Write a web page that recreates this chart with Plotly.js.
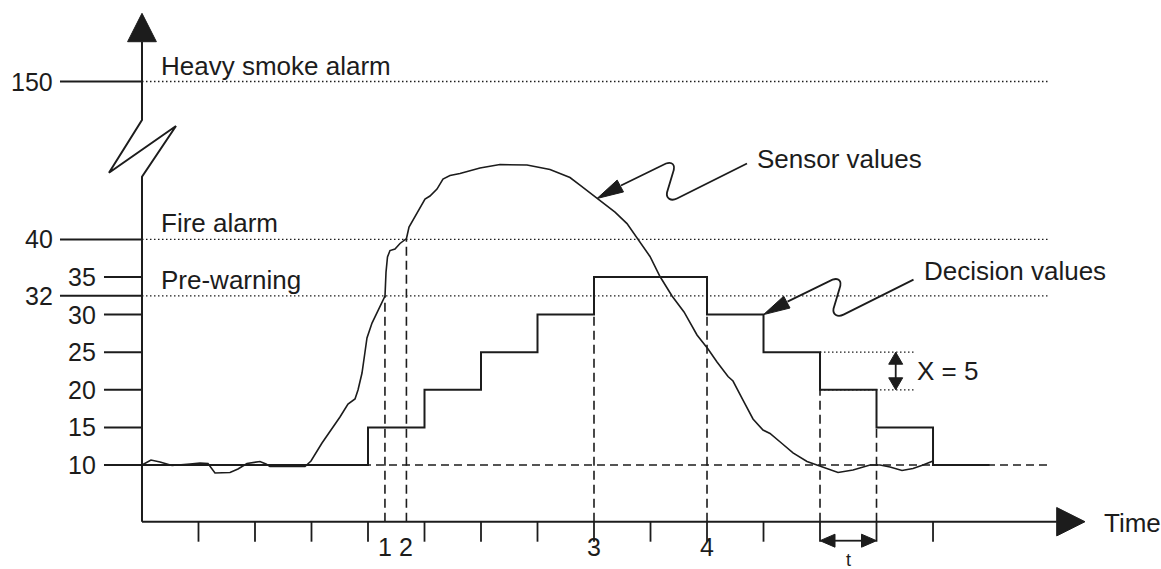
<!DOCTYPE html>
<html><head><meta charset="utf-8">
<script src="https://cdn.plot.ly/plotly-3.0.1.min.js"></script>
<style>html,body{margin:0;padding:0;background:#fff;}#chart{width:1161px;height:569px;}</style>
</head><body><div id="chart"></div>
<script>
// ---------------- data ----------------
const sensorT = [0,0.159,0.319,0.531,0.850,1.027,1.168,1.292,1.558,1.699,1.858,2.088,2.195,2.265,2.885,2.991,3.186,3.363,3.504,3.646,3.770,3.823,3.894,3.947,3.982,4.071,4.212,4.301,4.319,4.345,4.389,4.478,4.566,4.681,4.726,4.850,4.920,5.009,5.097,5.221,5.327,5.451,5.628,5.982,6.336,6.814,7.221,7.575,7.752,8.053,8.372,8.584,8.761,8.991,9.168,9.381,9.593,9.823,10.018,10.177,10.372,10.460,10.637,10.814,10.991,11.115,11.327,11.522,11.770,12.035,12.319,12.584,12.885,13.062,13.239,13.451,13.646,13.823,14.0];
const sensorV = [10,10.66,10.40,9.93,10.13,10.27,10.20,8.94,9.00,9.47,10.20,10.47,10.13,9.80,9.80,10.53,12.93,14.79,16.38,18.11,18.78,19.97,22.23,25.03,26.89,28.88,31.14,32.47,35.66,37.66,38.52,38.72,39.46,40.12,41.65,43.24,44.18,45.37,45.77,46.70,48.03,48.50,48.76,49.49,49.96,49.89,49.30,48.23,47.23,45.44,43.64,42.11,40.19,37.73,35.07,32.47,30.35,27.29,25.43,23.70,21.77,21.17,18.64,16.12,14.65,14.19,12.86,11.60,10.47,9.73,9.00,9.34,10.00,10.00,9.73,9.27,9.53,10.00,10.53];
const decisionT = [0,4,5,6,7,8,10,11,12,13,14,15];
const decisionV = [10,15,20,25,30,35,30,25,20,15,10,10];
const timeTicks = [1,2,3,4,5,6,7,8,9,10,11,12,13,14];
const eventLabels = ['1','2','3','4'];
const eventTimes = [4.30,4.68,8,10];
const eventRefs = [32,40,null,null];
const intervalTimes = [12,13];
const intervalLabel = 't';
const thresholdNames = ['Heavy smoke alarm','Fire alarm','Pre-warning'];
const thresholdValues = [150,40,32];
const yTickLabels = ['10','15','20','25','30','32','35','40','150'];
const yTickPos = [10,15,20,25,30,32.5,35,40,61];   // broken schematic axis
const longTickLabels = ['32','40','150'];
const baseValue = 10;
const stepX = 5;
const seriesNames = ['Sensor values','Decision values'];

// ---------------- layout helpers ----------------
const W = 1161, H = 569;
const X0 = -2.513, X1 = 18.035, Y0 = -3.83, Y1 = 71.84;
const sx = W/(X1-X0), sy = H/(Y1-Y0);
const axisY = 2.46;      // time axis height
const refEnd = 16.04;    // right end of reference lines
const xArrowTip = 16.69;
const ink = '#1c1c1c';
const FONT = 'Liberation Sans, Arial, Helvetica, sans-serif';

const posOf = v => yTickPos[yTickLabels.indexOf(String(v))];
function off(x,y,dxp,dyp){ return [x+dxp/sx, y-dyp/sy]; }
function fmt(p){ return p[0].toFixed(4)+','+p[1].toFixed(4); }
function pathOf(pts, close){ return 'M'+pts.map(fmt).join(' L')+(close?' Z':''); }
function head(tx,ty,ux,uy,len,half){
  const bx=-ux*len, by=-uy*len, px=-uy, py=ux;
  return pathOf([[tx,ty], off(tx,ty,bx+px*half,by+py*half), off(tx,ty,bx-px*half,by-py*half)], true);
}
const shapes = [];
function line(x0,y0,x1,y1,o){ o=o||{}; shapes.push({type:'line',xref:'x',yref:'y',x0,y0,x1,y1,layer:o.layer||'above',line:{color:ink,width:o.w||2,dash:o.dash||'solid'}}); }
function fill(path){ shapes.push({type:'path',xref:'x',yref:'y',path,fillcolor:ink,line:{color:ink,width:1}}); }
function stroke(path,w){ shapes.push({type:'path',xref:'x',yref:'y',path,line:{color:ink,width:w||1.8}}); }

function decBefore(t){ let v=decisionV[0]; for(let i=0;i<decisionT.length;i++){ if(decisionT[i]<t) v=decisionV[i]; } return v; }
function decAfter(t){ let v=decisionV[0]; for(let i=0;i<decisionT.length;i++){ if(decisionT[i]<=t) v=decisionV[i]; } return v; }

// threshold dotted lines
thresholdValues.forEach(v=>line(0,posOf(v),refEnd,posOf(v),{w:1.3,dash:'1.5px,2.5px',layer:'below'}));
// base dashed line
line(0,baseValue,refEnd,baseValue,{w:1.5,dash:'8px,5px',layer:'below'});
// event dashed verticals
eventTimes.forEach((t,i)=>{
  const top = eventRefs[i]!==null ? posOf(eventRefs[i]) : Math.min(decBefore(t),decAfter(t));
  line(t,axisY,t,top,{w:1.6,dash:'9px,5px',layer:'below'});
});
intervalTimes.forEach(t=>line(t,axisY,t,Math.min(decBefore(t),decAfter(t)),{w:1.6,dash:'9px,5px',layer:'below'}));

// y ticks
const longX = (60-142)/sx, shortX = (104-142)/sx;
yTickLabels.forEach((lab,i)=>{
  line(longTickLabels.includes(lab)?longX:shortX, yTickPos[i], 0, yTickPos[i], {w:2});
});
// y axis with break
const yArrowTip = 70.07, yArrowBase = 66.29;
stroke(pathOf([[0,axisY],[0,48.34],[0.602,55.08],[-0.584,48.87],[0,55.88],[0,yArrowBase]]),2);
fill(head(0,yArrowTip,0,-1,28.4,14.4));
// x axis
line(0,axisY,xArrowTip-28.3/sx,axisY,{w:2});
fill(head(xArrowTip,axisY,1,0,28.3,14.2));
timeTicks.forEach(t=>line(t,axisY,t,axisY-20/sy,{w:1.8}));

// interval t arrow
const tY = axisY - 19/sy;
line(intervalTimes[0]+14/sx,tY,intervalTimes[1]-14/sx,tY,{w:1.8});
fill(head(intervalTimes[0],tY,-1,0,15,6.5));
fill(head(intervalTimes[1],tY,1,0,15,6.5));

// X = 5 marker
const xs0 = 12, xs1 = 12 + 94/sx, xa = 12 + 75.7/sx;
line(xs0,25,xs1,25,{w:1.3,dash:'1.5px,2.5px'});
line(xs0,20,xs1,20,{w:1.3,dash:'1.5px,2.5px'});
line(xa,20+11/sy,xa,25-11/sy,{w:1.8});
fill(head(xa,25,0,-1,12,7));
fill(head(xa,20,0,1,12,7));

// callouts
function callout(tx,ty){
  const P = (a,b)=>fmt(off(tx,ty,a,b));
  const path = 'M'+P(150,-35)+' L'+P(80,0)+' C'+P(74,3)+' '+P(69,0)+' '+P(70,-6)+' L'+P(76,-26)+' C'+P(79,-34)+' '+P(75,-37)+' '+P(69,-35)+' L'+P(24,-13);
  stroke(path,1.8);
  fill(head(tx,ty,-0.881,0.472,26.5,6.7));
}
const sTip = [sensorT[49], sensorV[49]];
const dTip = [decisionT[7], decisionV[6]];
callout(sTip[0], sTip[1]);
callout(dTip[0], dTip[1]);

// ---------------- annotations ----------------
const ann = [];
function text(x,y,t,o){ o=o||{}; ann.push({x,y,xref:'x',yref:'y',text:t,showarrow:false,xanchor:o.xa||'left',yanchor:'middle',font:{family:FONT,size:o.size||26,color:ink}}); }
thresholdNames.forEach((n,i)=>text(0.30, posOf(thresholdValues[i])+16/sy, n));
yTickLabels.forEach((lab,i)=>text(longTickLabels.includes(lab)? (55-142)/sx : (98-142)/sx, yTickPos[i], lab, {xa:'right',size:25}));
eventLabels.forEach((lab,i)=>text(eventTimes[i], axisY-25/sy, lab, {xa:'center',size:25}));
text((intervalTimes[0]+intervalTimes[1])/2, axisY-38/sy, intervalLabel, {xa:'center',size:18});
text(xArrowTip+17/sx, axisY-1/sy, 'Time');
text(xs1+0.5/sx, 22.5, 'X = '+stepX);
const s1 = off(sTip[0],sTip[1],158,-40); text(s1[0],s1[1],seriesNames[0]);
const d1 = off(dTip[0],dTip[1],158,-44); text(d1[0],d1[1],seriesNames[1]);

// ---------------- traces ----------------
const traces = [
  {x:sensorT,y:sensorV,type:'scatter',mode:'lines',name:seriesNames[0],line:{color:ink,width:1.6},hoverinfo:'skip'},
  {x:decisionT,y:decisionV,type:'scatter',mode:'lines',name:seriesNames[1],line:{color:ink,width:2,shape:'hv'},hoverinfo:'skip'}
];
const layout = {
  width:W,height:H,margin:{l:0,r:0,t:0,b:0},paper_bgcolor:'#fff',plot_bgcolor:'#fff',showlegend:false,
  xaxis:{range:[X0,X1],visible:false,fixedrange:true},
  yaxis:{range:[Y0,Y1],visible:false,fixedrange:true},
  shapes, annotations:ann
};
Plotly.newPlot('chart',traces,layout,{staticPlot:true,displayModeBar:false});
</script></body></html>
